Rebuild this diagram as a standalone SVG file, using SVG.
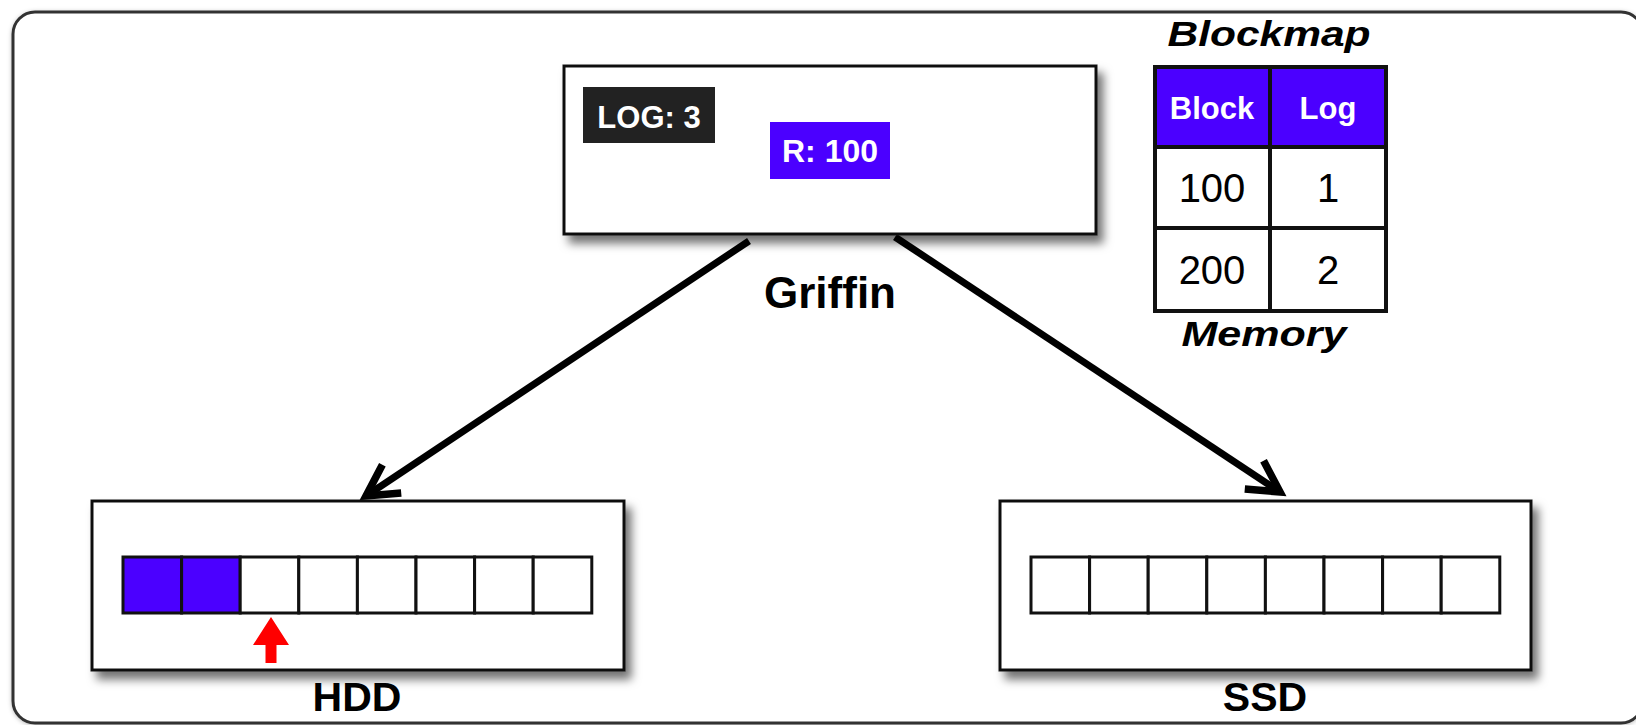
<svg xmlns="http://www.w3.org/2000/svg" width="1636" height="725" viewBox="0 0 1636 725">
  <style>
    .box { fill: #ffffff; stroke: #111111; stroke-width: 3; }
    .cell { fill: #ffffff; stroke: #111111; stroke-width: 3; }
    .used { fill: #4b00ff; }
    .lbl { font-family: "Liberation Sans", Arial, sans-serif; font-weight: bold; fill: #000000; text-anchor: middle; }
    .tag { font-family: "Liberation Sans", Arial, sans-serif; font-weight: bold; fill: #ffffff; text-anchor: middle; }
    .num { font-family: "Liberation Sans", Arial, sans-serif; fill: #000000; text-anchor: middle; }
    .ital { font-family: "Liberation Sans", Arial, sans-serif; font-weight: bold; font-style: italic; fill: #000000; text-anchor: middle; }
    .edge { fill: none; stroke: #000000; stroke-width: 7; }
    .grid { fill: none; stroke: #111111; stroke-width: 4; }
  </style>
  <defs>
    <filter id="shadow" x="-10%" y="-20%" width="130%" height="150%">
      <feDropShadow dx="6" dy="8" stdDeviation="5" flood-color="#000000" flood-opacity="0.55"/>
    </filter>
    <filter id="softShadow" x="-5%" y="-5%" width="110%" height="110%">
      <feDropShadow dx="0" dy="1" stdDeviation="2" flood-color="#000000" flood-opacity="0.25"/>
    </filter>
    <marker id="chevron" markerUnits="userSpaceOnUse" markerWidth="60" markerHeight="60" refX="0" refY="0" viewBox="-40 -30 60 60" orient="auto" overflow="visible">
      <path d="M -31 -17 L 0 0 L -31 17" fill="none" stroke="#000000" stroke-width="7.5" stroke-linejoin="miter" stroke-miterlimit="10"/>
    </marker>
  </defs>

  <rect width="1636" height="725" fill="#ffffff"/>

  <!-- outer frame -->
  <rect id="frame" x="13" y="12" width="1630" height="711" rx="22" ry="22" fill="#ffffff" stroke="#333333" stroke-width="3" filter="url(#softShadow)"/>

  <!-- connectors -->
  <g id="connectors">
    <line class="edge" x1="749" y1="241" x2="366" y2="496" marker-end="url(#chevron)"/>
    <line class="edge" x1="895" y1="237" x2="1280" y2="492" marker-end="url(#chevron)"/>
  </g>

  <!-- Griffin -->
  <g id="griffin">
    <rect class="box" x="564" y="66" width="532" height="168" filter="url(#shadow)"/>
    <rect x="583" y="87" width="132" height="56" fill="#222222"/>
    <text class="tag" x="649" y="128" font-size="31">LOG: 3</text>
    <rect class="used" x="770" y="122" width="120" height="57"/>
    <text class="tag" x="830" y="162" font-size="32">R: 100</text>
    <text class="lbl" x="830" y="308" font-size="44">Griffin</text>
  </g>

  <!-- Blockmap table -->
  <g id="blockmap">
    <text class="ital" x="1269" y="46" font-size="35" textLength="203" lengthAdjust="spacingAndGlyphs">Blockmap</text>
    <rect class="used" x="1155" y="67" width="231" height="80"/>
    <rect x="1155" y="147" width="231" height="164" fill="#ffffff"/>
    <rect class="grid" x="1155" y="67" width="231" height="244"/>
    <line class="grid" x1="1155" y1="147" x2="1386" y2="147"/>
    <line class="grid" x1="1155" y1="228" x2="1386" y2="228"/>
    <line class="grid" x1="1270" y1="67" x2="1270" y2="311"/>
    <text class="tag" x="1212" y="119" font-size="31">Block</text>
    <text class="tag" x="1328" y="119" font-size="31">Log</text>
    <text class="num" x="1212" y="202" font-size="40">100</text>
    <text class="num" x="1328" y="202" font-size="40">1</text>
    <text class="num" x="1212" y="284" font-size="40">200</text>
    <text class="num" x="1328" y="284" font-size="40">2</text>
    <text class="ital" x="1264" y="346" font-size="35" textLength="165" lengthAdjust="spacingAndGlyphs">Memory</text>
  </g>

  <!-- HDD -->
  <g id="hdd">
    <rect class="box" x="92" y="501" width="532" height="169" filter="url(#shadow)"/>
    <rect class="cell used" x="123" y="557" width="58.6" height="56"/>
    <rect class="cell used" x="181.6" y="557" width="58.6" height="56"/>
    <rect class="cell" x="240.2" y="557" width="58.6" height="56"/>
    <rect class="cell" x="298.8" y="557" width="58.6" height="56"/>
    <rect class="cell" x="357.4" y="557" width="58.6" height="56"/>
    <rect class="cell" x="416" y="557" width="58.6" height="56"/>
    <rect class="cell" x="474.6" y="557" width="58.6" height="56"/>
    <rect class="cell" x="533.2" y="557" width="58.6" height="56"/>
    <polygon points="271,617 289,645 276.5,645 276.5,663 265.5,663 265.5,645 253,645" fill="#ff0000"/>
    <text class="lbl" x="357" y="711" font-size="41">HDD</text>
  </g>

  <!-- SSD -->
  <g id="ssd">
    <rect class="box" x="1000" y="501" width="531" height="169" filter="url(#shadow)"/>
    <rect class="cell" x="1031" y="557" width="58.6" height="56"/>
    <rect class="cell" x="1089.6" y="557" width="58.6" height="56"/>
    <rect class="cell" x="1148.2" y="557" width="58.6" height="56"/>
    <rect class="cell" x="1206.8" y="557" width="58.6" height="56"/>
    <rect class="cell" x="1265.4" y="557" width="58.6" height="56"/>
    <rect class="cell" x="1324" y="557" width="58.6" height="56"/>
    <rect class="cell" x="1382.6" y="557" width="58.6" height="56"/>
    <rect class="cell" x="1441.2" y="557" width="58.6" height="56"/>
    <text class="lbl" x="1265" y="711" font-size="41">SSD</text>
  </g>
</svg>
